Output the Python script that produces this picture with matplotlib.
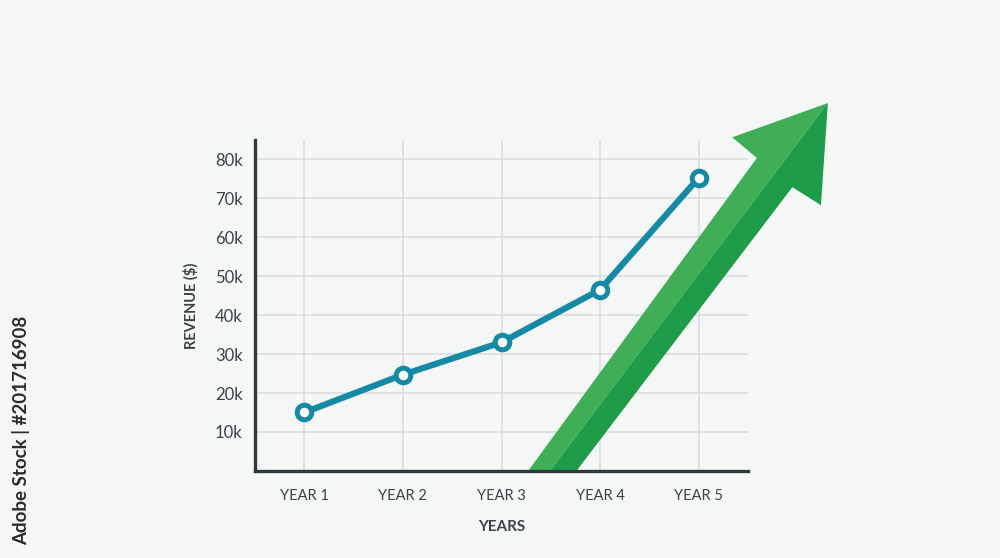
import matplotlib
matplotlib.use('Agg')
import matplotlib.pyplot as plt
from matplotlib.patches import Polygon

# data (revenue in thousands of dollars)
years = [1, 2, 3, 4, 5]
year_labels = ['YEAR 1', 'YEAR 2', 'YEAR 3', 'YEAR 4', 'YEAR 5']
revenue_k = [15, 24.7, 33, 46.5, 75.2]
y_ticks = [10, 20, 30, 40, 50, 60, 70, 80]

# big green trend arrow outline, in data units (x = year, y = k$)
arrow_light = [(3.27, 0), (3.49, 0), (6.31, 94.4), (5.34, 85.6), (5.59, 80.3)]
arrow_dark = [(3.49, 0), (3.76, 0), (5.95, 72.8), (6.24, 68.2), (6.31, 94.4)]

bg = '#f5f6f6'
ink = '#3a4247'
plt.rcParams['font.family'] = ['Lato', 'DejaVu Sans']

fig = plt.figure(figsize=(10, 5.58), dpi=100, facecolor=bg)
ax = fig.add_axes([0.255, 0.156, 0.493, 0.593])
ax.set_facecolor(bg)

ax.set_xlim(0.5, 5.5)
ax.set_ylim(0, 84.9)

# grid
ax.set_xticks(years)
ax.set_yticks(y_ticks)
ax.grid(True, color='#dcdedf', linewidth=1.3, zorder=0)

# arrow
ax.add_patch(Polygon(arrow_light, closed=True, facecolor='#3fae57', edgecolor='none',
                     clip_on=False, zorder=2))
ax.add_patch(Polygon(arrow_dark, closed=True, facecolor='#1f9c4a', edgecolor='none',
                     clip_on=False, zorder=2))

# revenue line
ax.plot(years, revenue_k, color='#168aa4', linewidth=4.5, marker='o', markersize=10.5,
        markerfacecolor='white', markeredgecolor='#168aa4', markeredgewidth=3.6, zorder=3)

# ticks / labels
ax.set_xticklabels(year_labels, fontsize=10.5, color=ink)
ax.set_yticklabels([f'{v}k' for v in y_ticks], fontsize=12, color=ink)
ax.tick_params(length=0, pad=9)
ax.tick_params(axis='x', pad=13)
ax.set_xlabel('YEARS', fontsize=11, color=ink, fontweight='bold', labelpad=12)
ax.set_ylabel('REVENUE ($)', fontsize=10.5, color=ink, fontweight='bold', labelpad=12)

for side in ['top', 'right']:
    ax.spines[side].set_visible(False)
for side in ['left', 'bottom']:
    ax.spines[side].set_color('#2f3a3f')
    ax.spines[side].set_linewidth(2.4)
    ax.spines[side].set_zorder(4)

# side credit text
fig.text(0.021, 0.435, 'Adobe Stock | #201716908', rotation=90, fontsize=13.5,
         fontweight='bold', color='#2b2b2b', ha='center', va='top')

fig.savefig('out.png', dpi=100, facecolor=bg)
